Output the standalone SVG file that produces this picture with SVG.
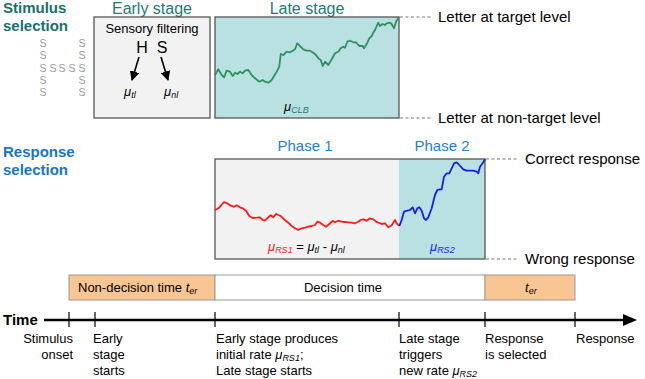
<svg xmlns="http://www.w3.org/2000/svg" width="645" height="379" viewBox="0 0 645 379">
<defs>
<style>
text{font-family:"Liberation Sans",Arial,sans-serif;fill:#000}
.t13{font-size:13px}
.t15{font-size:15px}
.hdr{font-size:16px;fill:#1e7a72;text-anchor:middle}
.ph{font-size:15px;fill:#1f7fd0;text-anchor:middle}
.bold1{font-size:15px;font-weight:bold;fill:#17716b}
.bold2{font-size:15px;font-weight:bold;fill:#1874c6}
.box{stroke:#555;stroke-width:1.3}
.dash{stroke:#777;stroke-width:1.2;stroke-dasharray:3,2.5;fill:none}
.nav{font-family:"Liberation Sans",Arial,sans-serif;font-size:10.5px;fill:#9a9a9a;text-anchor:middle}
.mu{font-style:italic}
.sub{font-size:9px;font-style:italic}
.tick{stroke:#000;stroke-width:1.2}
.walk{fill:none;stroke-width:1.8;stroke-linejoin:round}
</style>
<marker id="ah" viewBox="0 0 10 10" refX="9" refY="5" markerWidth="6" markerHeight="6" orient="auto"><path d="M0,0 L10,5 L0,10 z" fill="#000"/></marker>
</defs>

<g id="stimulus-label">
<text class="bold1" x="3" y="13">Stimulus</text>
<text class="bold1" x="3" y="31">selection</text>
</g>

<g id="navon">
<text class="nav" x="43" y="47">S</text><text class="nav" x="82" y="47">S</text>
<text class="nav" x="43" y="59">S</text><text class="nav" x="82" y="59">S</text>
<text class="nav" x="43" y="72">S</text><text class="nav" x="53" y="72">S</text><text class="nav" x="62" y="72">S</text><text class="nav" x="72" y="72">S</text><text class="nav" x="82" y="72">S</text>
<text class="nav" x="43" y="84">S</text><text class="nav" x="82" y="84">S</text>
<text class="nav" x="43" y="96">S</text><text class="nav" x="82" y="96">S</text>
</g>

<g id="early-stage">
<text class="hdr" x="152" y="14">Early stage</text>
<rect class="box" x="94" y="17" width="116" height="101" fill="#f2f2f2"/>
<text class="t13" x="152" y="33" text-anchor="middle">Sensory filtering</text>
<text x="142" y="53" font-size="16" text-anchor="middle">H</text>
<text x="162" y="53" font-size="16" text-anchor="middle">S</text>
<line x1="139" y1="57" x2="132" y2="80" stroke="#000" stroke-width="1.6" marker-end="url(#ah)"/>
<line x1="161" y1="57" x2="168" y2="80" stroke="#000" stroke-width="1.6" marker-end="url(#ah)"/>
<text class="mu t13" x="124" y="96">μ<tspan class="sub" dy="2">tl</tspan></text>
<text class="mu t13" x="164" y="96">μ<tspan class="sub" dy="2">nl</tspan></text>
</g>

<g id="late-stage">
<text class="hdr" x="307" y="14">Late stage</text>
<rect class="box" x="215" y="17" width="184" height="101" fill="#b9e1e2"/>
<polyline class="walk" stroke="#2e9160" points="215,75 218.3,69.3 221.7,75 224,77.3 226.7,70.7 230,71.7 232.7,76 235,72.7 237.3,74 240,71.7 242.7,73.3 245,70.7 248.3,70 251.7,75 255,78.3 259.3,81.7 262.7,80 265,81.7 268.3,82.7 271.7,80 274,76 276.7,71.7 279.3,66.7 280.7,54 283.3,55 286.7,51.7 290,52.3 292.7,50.7 295,49.3 297.3,43.3 300,46 303.3,49.3 306.7,50.7 310,50.7 313.3,52.7 316,55 318.3,58.3 320.7,60 322.7,66 325,61.7 328.3,65 331.7,59.3 335,53.3 338.3,51.7 340.7,48.3 343.3,46.7 345,47.7 347.3,41.7 350,40.7 353.3,42.3 356,42.3 359.3,46 362.7,46 364,48.3 366.7,44 369.3,38.3 371.7,36 373.3,32.7 375,30 378.3,22.7 380,26 382.7,24 385,25 386.7,23.3 390,22.7 391.7,24 394,28.3 396,21.7 399,17"/>
<text class="mu t13" x="284" y="111" fill="#1e7a72">μ<tspan class="sub" dy="2" fill="#1e7a72">CLB</tspan></text>
</g>

<g id="stimulus-levels">
<line class="dash" x1="400" y1="17" x2="433" y2="17"/>
<line class="dash" x1="400" y1="118" x2="433" y2="118"/>
<text class="t15" x="438" y="22">Letter at target level</text>
<text class="t15" x="438" y="123">Letter at non-target level</text>
</g>

<g id="response-label">
<text class="bold2" x="3" y="157">Response</text>
<text class="bold2" x="3" y="175">selection</text>
</g>

<g id="response-box">
<text class="ph" x="305" y="151">Phase 1</text>
<text class="ph" x="442" y="151">Phase 2</text>
<rect x="215" y="159" width="184" height="100" fill="#f2f2f2"/>
<rect x="399" y="159" width="86" height="100" fill="#b9e1e2"/>
<rect class="box" x="215" y="159" width="270" height="100" fill="none"/>
<polyline class="walk" stroke="#ff1a1a" points="215,210 218.3,208.3 220.7,206 224,202 227.3,203.3 230.7,205.7 234,206.7 236.7,205.3 240,207.3 243.3,208.7 246,210.7 249.3,216 252.7,218 256.7,217.7 260,217.3 262.7,220 265,220.7 268.3,217.3 270.7,215.3 273.3,217.3 276,214 278.3,215 280.7,216 284,219.3 288.3,222.7 291.7,226 295,228.3 298.3,230 301.7,228.3 305,227.7 308.3,226.7 311.7,226 315,225 317.3,221.7 320,222.7 323.3,225 326,226.7 329.3,224 332.7,221 335,222.3 338.3,220.7 341.7,221.7 345,222 348.3,222.3 351.7,222.7 355,223.3 358.3,221.7 360.7,220 363.3,219.3 366.7,220.7 370,218.3 373.3,219.3 376,221.7 378.3,222.7 381.7,224 385,223.3 388.3,227.3 391.7,225.3 395,220 396.7,223.3 399.3,226"/>
<polyline class="walk" stroke="#1a1aee" points="399.3,226 401.7,220 404,211.7 407.3,210.7 410,210 412.7,207.3 415,213.3 417.3,208.3 419.3,207.3 421.7,210.7 424,218.3 426,220 428.3,217.3 431.7,208.3 435,195 437.3,190 440,189.3 441.7,189.3 444,176.7 446.7,173.3 449.3,173.3 451.7,168.3 454,163.3 456.7,162.3 459.3,165 463.3,169.3 466.7,170.7 470,170.7 473.3,170.7 476.7,171.7 478.3,173.3 480,166.7 482.7,163.3 485,159.3"/>
<text class="t13" x="268" y="251"><tspan class="mu" fill="#ee1c1c">μ</tspan><tspan class="sub" dy="2" fill="#ee1c1c">RS1</tspan><tspan dy="-2"> = </tspan><tspan class="mu">μ</tspan><tspan class="sub" dy="2">tl</tspan><tspan dy="-2"> - </tspan><tspan class="mu">μ</tspan><tspan class="sub" dy="2">nl</tspan></text>
<text class="t13" x="430" y="251"><tspan class="mu" fill="#1a1aee">μ</tspan><tspan class="sub" dy="2" fill="#1a1aee">RS2</tspan></text>
</g>

<g id="response-levels">
<line class="dash" x1="486" y1="159" x2="517" y2="159"/>
<line class="dash" x1="486" y1="259" x2="517" y2="259"/>
<text class="t15" x="525" y="164">Correct response</text>
<text class="t15" x="525" y="264">Wrong response</text>
</g>

<g id="time-bar">
<rect x="69" y="275" width="146" height="25" fill="#f9c592" stroke="#999" stroke-width="1"/>
<rect x="215" y="275" width="270" height="25" fill="#fff" stroke="#999" stroke-width="1"/>
<rect x="485" y="275" width="90" height="25" fill="#f9c592" stroke="#999" stroke-width="1"/>
<text class="t13" x="78" y="292">Non-decision time <tspan class="mu">t</tspan><tspan class="sub" dy="2">er</tspan></text>
<text class="t13" x="343" y="292" text-anchor="middle">Decision time</text>
<text class="t13" x="525" y="292"><tspan class="mu">t</tspan><tspan class="sub" dy="2">er</tspan></text>
</g>

<g id="connectors">
<line x1="44" y1="320" x2="624" y2="320" stroke="#000" stroke-width="2.5"/>
<polygon points="623,314 637,320 623,326" fill="#000"/>
<line class="tick" x1="69" y1="312" x2="69" y2="327"/>
<line class="tick" x1="95" y1="312" x2="95" y2="327"/>
<line class="tick" x1="215" y1="312" x2="215" y2="327"/>
<line class="tick" x1="399" y1="312" x2="399" y2="327"/>
<line class="tick" x1="485" y1="312" x2="485" y2="327"/>
<line class="tick" x1="575" y1="312" x2="575" y2="327"/>
</g>

<g id="time-labels">
<text x="3" y="325" font-size="15" font-weight="bold">Time</text>
<text class="t13" x="73" y="343" text-anchor="end">Stimulus</text>
<text class="t13" x="73" y="359" text-anchor="end">onset</text>
<text class="t13" x="93" y="343">Early</text>
<text class="t13" x="93" y="359">stage</text>
<text class="t13" x="93" y="375">starts</text>
<text class="t13" x="216" y="343">Early stage produces</text>
<text class="t13" x="216" y="359">initial rate <tspan class="mu">μ</tspan><tspan class="sub" dy="2">RS1</tspan><tspan dy="-2">;</tspan></text>
<text class="t13" x="216" y="375">Late stage starts</text>
<text class="t13" x="399" y="343">Late stage</text>
<text class="t13" x="399" y="359">triggers</text>
<text class="t13" x="399" y="375">new rate <tspan class="mu">μ</tspan><tspan class="sub" dy="2">RS2</tspan></text>
<text class="t13" x="485" y="343">Response</text>
<text class="t13" x="485" y="359">is selected</text>
<text class="t13" x="576" y="343">Response</text>
</g>
</svg>
